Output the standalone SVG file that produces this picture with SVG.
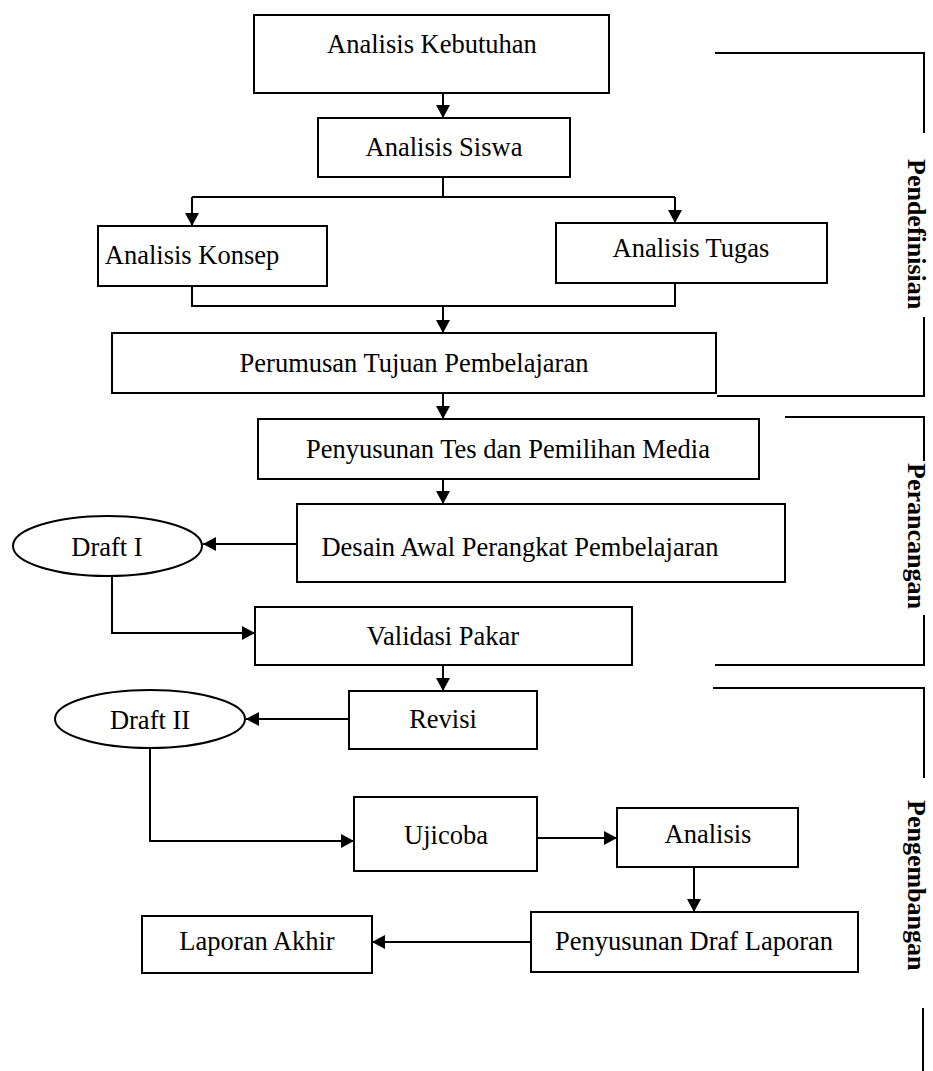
<svg xmlns="http://www.w3.org/2000/svg" width="933" height="1071" viewBox="0 0 933 1071">
<style>
.box{fill:#fff;stroke:#000;stroke-width:2}
.t{font-family:"Liberation Serif","Times New Roman",serif;font-size:26.5px;fill:#000;text-anchor:middle}
.lb{font-family:"Liberation Serif","Times New Roman",serif;font-size:26px;font-weight:bold;fill:#000}
.c{fill:none;stroke:#000;stroke-width:2}
.ca{fill:none;stroke:#000;stroke-width:2;marker-end:url(#ah)}
</style>
<defs>
<marker id="ah" markerUnits="userSpaceOnUse" markerWidth="14" markerHeight="14" refX="13" refY="7" orient="auto">
<path d="M0,0 L13,7 L0,14 z" fill="#000"/>
</marker>
</defs>
<rect width="933" height="1071" fill="#fff"/>

<g id="connectors">
<path class="ca" d="M443,93 V118"/>
<path class="c" d="M443,177 V197 M192,197 H675"/>
<path class="ca" d="M192,197 V226"/>
<path class="ca" d="M675,197 V223"/>
<path class="c" d="M192,286 V306 H675 V283"/>
<path class="ca" d="M443,306 V333"/>
<path class="ca" d="M443,393 V419"/>
<path class="ca" d="M443,479 V504"/>
<path class="ca" d="M297,544 H203"/>
<path class="ca" d="M112,576 V633 H255"/>
<path class="ca" d="M443,665 V691"/>
<path class="ca" d="M349,719 H246"/>
<path class="ca" d="M150,748 V841 H354"/>
<path class="ca" d="M537,838 H617"/>
<path class="ca" d="M694,867 V912"/>
<path class="ca" d="M531,942 H372"/>
</g>

<g id="n-kebutuhan"><rect class="box" x="254" y="15" width="355" height="78"/><text class="t" x="432" y="53">Analisis Kebutuhan</text></g>
<g id="n-siswa"><rect class="box" x="318" y="118" width="252" height="59"/><text class="t" x="444" y="156">Analisis Siswa</text></g>
<g id="n-konsep"><rect class="box" x="98" y="226" width="229" height="60"/><text class="t" x="192" y="264">Analisis Konsep</text></g>
<g id="n-tugas"><rect class="box" x="556" y="223" width="271" height="60"/><text class="t" x="691" y="257">Analisis Tugas</text></g>
<g id="n-perumusan"><rect class="box" x="112" y="333" width="604" height="60"/><text class="t" x="414" y="372">Perumusan Tujuan Pembelajaran</text></g>
<g id="n-penyusunan-tes"><rect class="box" x="258" y="419" width="501" height="60"/><text class="t" x="508" y="458">Penyusunan Tes dan Pemilihan Media</text></g>
<g id="n-desain"><rect class="box" x="297" y="504" width="488" height="78"/><text class="t" x="520" y="556">Desain Awal Perangkat Pembelajaran</text></g>
<g id="n-draft1"><ellipse class="box" cx="107.5" cy="546" rx="94.5" ry="30"/><text class="t" x="107" y="556">Draft I</text></g>
<g id="n-validasi"><rect class="box" x="255" y="607" width="377" height="58"/><text class="t" x="443" y="645">Validasi Pakar</text></g>
<g id="n-revisi"><rect class="box" x="349" y="691" width="188" height="58"/><text class="t" x="443" y="728">Revisi</text></g>
<g id="n-draft2"><ellipse class="box" cx="150" cy="719" rx="95" ry="29"/><text class="t" x="150" y="729">Draft II</text></g>
<g id="n-ujicoba"><rect class="box" x="354" y="797" width="183" height="74"/><text class="t" x="446" y="844">Ujicoba</text></g>
<g id="n-analisis"><rect class="box" x="617" y="808" width="181" height="59"/><text class="t" x="708" y="843">Analisis</text></g>
<g id="n-draf-laporan"><rect class="box" x="531" y="912" width="327" height="60"/><text class="t" x="694" y="950">Penyusunan Draf Laporan</text></g>
<g id="n-laporan-akhir"><rect class="box" x="142" y="916" width="230" height="57"/><text class="t" x="257" y="950">Laporan Akhir</text></g>

<g id="phase-pendefinisian">
<path class="c" d="M715,53 H924 V133 M924,317 V396 H717"/>
<text class="lb" transform="translate(908,159) rotate(90)">Pendefinisian</text>
</g>
<g id="phase-perancangan">
<path class="c" d="M785,417 H924 V461 M924,615 V665 H715"/>
<text class="lb" transform="translate(908,463) rotate(90)">Perancangan</text>
</g>
<g id="phase-pengembangan">
<path class="c" d="M713,688 H924 V778 M923,1008 V1071"/>
<text class="lb" transform="translate(908,800) rotate(90)">Pengembangan</text>
</g>
</svg>
